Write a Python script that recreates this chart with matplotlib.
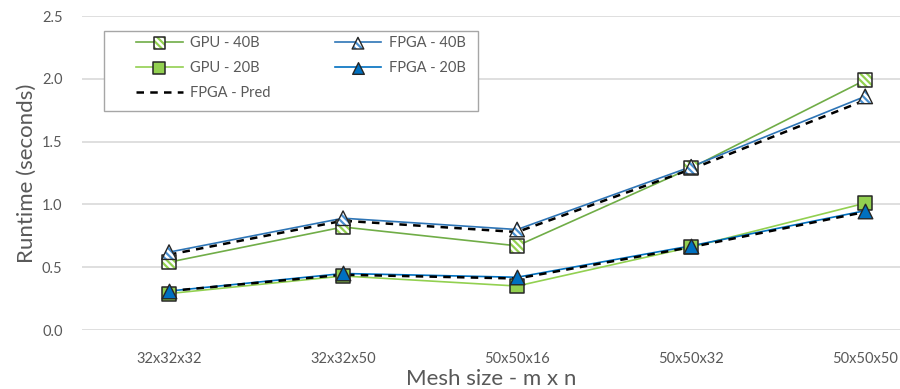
import matplotlib
matplotlib.use("Agg")
import matplotlib.pyplot as plt
from matplotlib.legend_handler import HandlerTuple
from matplotlib.patches import Rectangle
import numpy as np

plt.rcParams['font.family'] = ['Lato', 'DejaVu Sans']
plt.rcParams['hatch.linewidth'] = 1.6

meshes = ["32x32x32", "32x32x50", "50x50x16", "50x50x32", "50x50x50"]
gpu_40b = [0.54, 0.82, 0.67, 1.29, 1.99]
fpga_40b = [0.62, 0.89, 0.80, 1.30, 1.86]
pred_40b = [0.60, 0.87, 0.78, 1.28, 1.83]
gpu_20b = [0.29, 0.43, 0.35, 0.66, 1.01]
fpga_20b = [0.31, 0.45, 0.42, 0.67, 0.95]
pred_20b = [0.31, 0.44, 0.41, 0.66, 0.94]

x = np.arange(len(meshes))
green_dark = "#70AD47"
green_light = "#92D050"
blue = "#2E75B6"
blue_dark = "#0070C0"
edge = "#262626"
hatch = "\\" * 5

fig = plt.figure(figsize=(9, 3.89), dpi=100)
ax = fig.add_axes([82/900, 59/389, 1 - 82/900, 314/389])

# lines
l_g40, = ax.plot(x, gpu_40b, color=green_dark, lw=1.2, zorder=2)
l_g20, = ax.plot(x, gpu_20b, color=green_light, lw=1.2, zorder=2)
l_f40, = ax.plot(x, fpga_40b, color=blue, lw=1.2, zorder=3)
l_f20, = ax.plot(x, fpga_20b, color=blue_dark, lw=1.2, zorder=3)
l_pred, = ax.plot(x, pred_40b, color="black", lw=1.8, ls=(0, (3, 2.5)), zorder=4)
ax.plot(x, pred_20b, color="black", lw=1.8, ls=(0, (3, 2.5)), zorder=4)

# markers (hatch colour follows edge colour, so hatch and outline are drawn separately)
h_g40 = ax.scatter(x, gpu_40b, marker="s", s=110, facecolor="white",
                   edgecolor=green_light, linewidth=0, hatch=hatch, zorder=5)
o_g40 = ax.scatter(x, gpu_40b, marker="s", s=110, facecolor="none",
                   edgecolor=edge, linewidth=1.1, zorder=5)
m_g20 = ax.scatter(x, gpu_20b, marker="s", s=110, facecolor=green_light,
                   edgecolor=edge, linewidth=1.1, zorder=5)
h_f40 = ax.scatter(x, fpga_40b, marker="^", s=110, facecolor="white",
                   edgecolor="#4A90D0", linewidth=0, hatch=hatch, zorder=6)
o_f40 = ax.scatter(x, fpga_40b, marker="^", s=110, facecolor="none",
                   edgecolor=edge, linewidth=1.0, zorder=6)
m_f20 = ax.scatter(x, fpga_20b, marker="^", s=110, facecolor=blue_dark,
                   edgecolor=edge, linewidth=1.0, zorder=6)

ax.set_xlim(-0.5, 4.2)
ax.set_ylim(0, 2.5)
ax.set_yticks([0, 0.5, 1.0, 1.5, 2.0, 2.5])
ax.yaxis.set_major_formatter(matplotlib.ticker.FormatStrFormatter('%.1f'))
ax.set_xticks(x)
ax.set_xticklabels(meshes)
ax.grid(axis='y', color="#D9D9D9", lw=1.2)
ax.set_axisbelow(True)
for s in ax.spines.values():
    s.set_visible(False)
ax.tick_params(length=0, colors="#595959", labelsize=10.5)
ax.tick_params(axis='x', pad=16)
ax.tick_params(axis='y', pad=14)
ax.set_ylabel("Runtime (seconds)", fontsize=16, color="#595959", labelpad=4)
ax.set_xlabel("Mesh size - m x n", fontsize=16, color="#595959", labelpad=2)

# legend frame drawn separately so the inner padding can be uneven
frame = Rectangle((104/900, 1 - 111/389), 374/900, 80/389, transform=fig.transFigure,
                  facecolor="white", edgecolor="#A6A6A6", lw=1.0, zorder=7)
ax.add_patch(frame)

handles = [(l_g40, h_g40, o_g40), (l_g20, m_g20), l_pred,
           (l_f40, h_f40, o_f40), (l_f20, m_f20)]
labels = ["GPU - 40B", "GPU - 20B", "FPGA - Pred", "FPGA - 40B", "FPGA - 20B"]
leg = ax.legend(handles, labels, ncol=2, loc="upper left",
                bbox_to_anchor=(136/900, 1 - 36/389), bbox_transform=fig.transFigure,
                borderaxespad=0, borderpad=0, frameon=False, fontsize=10.5,
                handler_map={tuple: HandlerTuple(ndivide=1)},
                handlelength=3.2, columnspacing=4.4, labelspacing=0.75,
                handletextpad=0.5, scatterpoints=1, markerscale=0.8)
leg.set_zorder(8)
for t in leg.get_texts():
    t.set_color("#595959")

fig.savefig("out.png", dpi=100)
